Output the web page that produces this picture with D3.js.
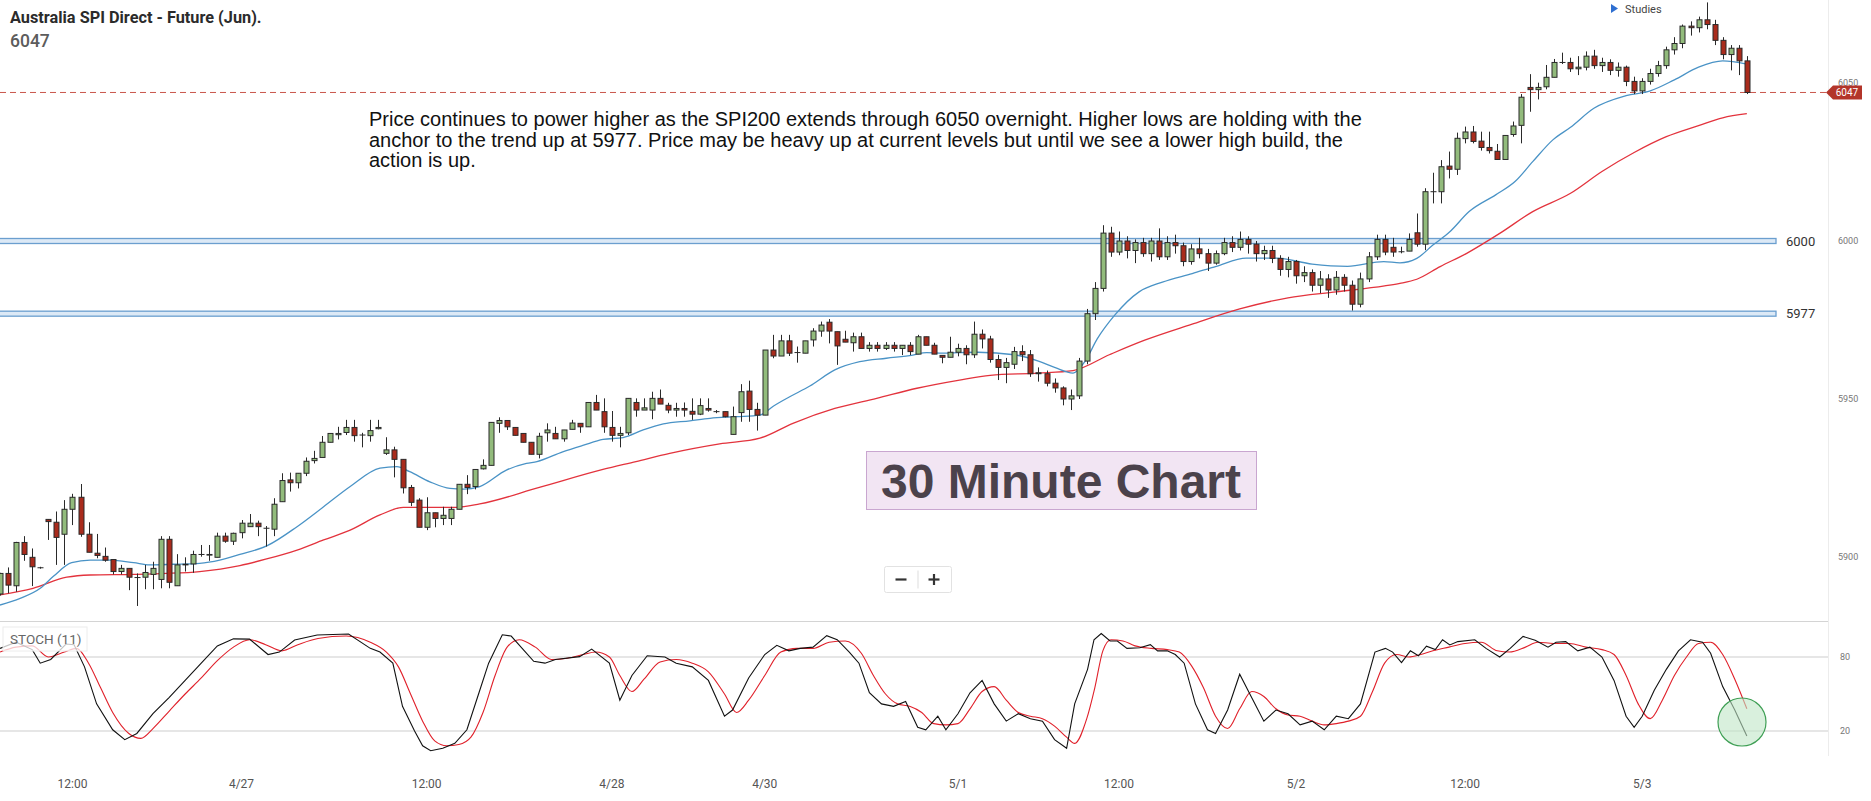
<!DOCTYPE html>
<html>
<head>
<meta charset="utf-8">
<script src="https://cdn.jsdelivr.net/npm/d3@7"></script>
<style>
  body { margin: 0; background: #fff; }
  svg { display: block; font-family: Roboto, "Liberation Sans", Arial, sans-serif; }
</style>
</head>
<body>
<svg id="chart"></svg>
<script>
// 30 minute candles (index 0 = left edge)
const opens = [
  5888.3, 5894.8, 5890.9, 5904.6, 5899.9, 5896.6, 5911.9, 5911.0, 5907.2, 5915.1,
  5918.9, 5907.2, 5901.2, 5900.2, 5899.2, 5895.4, 5896.4, 5893.5, 5893.6, 5894.5,
  5892.9, 5905.6, 5890.9, 5897.5, 5897.8, 5900.8, 5900.6, 5899.9, 5906.6, 5905.0,
  5907.7, 5909.6, 5910.7, 5909.1, 5908.8, 5917.5, 5924.4, 5923.5, 5926.5, 5930.5,
  5931.5, 5936.3, 5938.7, 5939.4, 5941.0, 5938.6, 5938.4, 5940.6, 5932.8, 5933.9,
  5930.9, 5922.0, 5918.0, 5909.4, 5914.0, 5912.2, 5912.2, 5915.1, 5923.0, 5922.3,
  5927.9, 5929.0, 5942.3, 5943.2, 5941.0, 5939.1, 5936.3, 5932.5, 5939.3, 5939.1,
  5937.4, 5940.4, 5942.3, 5941.2, 5948.9, 5946.0, 5941.0, 5938.5, 5939.3, 5948.9,
  5946.5, 5946.5, 5950.2, 5948.0, 5946.5, 5947.0, 5946.1, 5945.2, 5947.0, 5946.0,
  5946.0, 5938.8, 5945.7, 5952.5, 5946.7, 5944.9, 5965.5, 5963.6, 5968.4, 5964.7,
  5964.5, 5968.7, 5971.5, 5974.3, 5971.3, 5968.9, 5967.8, 5969.7, 5966.0, 5967.0,
  5966.0, 5967.0, 5966.0, 5967.0, 5964.2, 5969.7, 5967.0, 5963.8, 5963.2, 5964.8,
  5966.0, 5964.0, 5970.5, 5969.0, 5962.5, 5960.0, 5961.0, 5965.0, 5964.0, 5958.0,
  5958.0, 5955.0, 5953.5, 5950.0, 5951.0, 5962.0, 5977.0, 5985.0, 6002.5, 5996.5,
  6000.0, 5997.0, 5999.5, 5996.0, 6000.0, 5995.0, 5999.5, 5998.5, 5993.5, 5997.5,
  5996.0, 5993.0, 5996.0, 5999.5, 5998.0, 6000.5, 5999.0, 5996.0, 5997.0, 5994.5,
  5991.0, 5993.5, 5989.0, 5990.0, 5986.0, 5988.0, 5984.5, 5988.5, 5986.0, 5980.0,
  5988.0, 5995.0, 6000.5, 5998.0, 5996.6, 5996.8, 6002.6, 5999.0, 6015.6, 6015.6,
  6023.7, 6022.7, 6032.4, 6034.5, 6031.6, 6029.6, 6028.4, 6025.8, 6033.7, 6036.6,
  6048.6, 6047.9, 6048.8, 6051.8, 6056.5, 6056.5, 6054.5, 6055.0, 6058.5, 6055.5,
  6056.5, 6054.0, 6055.0, 6050.5, 6047.5, 6050.5, 6053.0, 6055.5, 6060.5, 6062.5,
  6068.0, 6067.5, 6070.0, 6068.5, 6063.5, 6059.0, 6061.0, 6057.0
];
const highs = [
  5895.0, 5896.7, 5904.8, 5906.6, 5902.7, 5896.9, 5912.0, 5914.4, 5918.0, 5920.0,
  5923.1, 5911.0, 5907.3, 5903.0, 5899.2, 5897.5, 5896.4, 5894.8, 5897.5, 5898.5,
  5906.6, 5906.6, 5900.9, 5899.9, 5902.0, 5903.8, 5903.8, 5907.7, 5907.7, 5907.7,
  5911.7, 5913.6, 5911.5, 5909.8, 5918.6, 5926.5, 5926.7, 5926.5, 5931.5, 5933.6,
  5938.3, 5939.1, 5941.2, 5943.4, 5943.4, 5939.3, 5943.4, 5943.4, 5937.9, 5934.9,
  5930.9, 5922.8, 5918.6, 5918.9, 5914.0, 5915.9, 5915.9, 5923.0, 5925.9, 5927.7,
  5930.9, 5942.6, 5944.2, 5943.2, 5941.0, 5939.1, 5936.3, 5939.3, 5942.3, 5941.2,
  5940.2, 5943.4, 5942.3, 5948.9, 5951.3, 5950.2, 5946.2, 5941.2, 5950.2, 5950.2,
  5950.2, 5952.3, 5953.0, 5948.8, 5948.8, 5948.9, 5950.2, 5950.2, 5950.2, 5946.5,
  5946.0, 5947.6, 5954.7, 5955.8, 5948.8, 5965.5, 5970.3, 5970.3, 5970.3, 5966.6,
  5968.4, 5972.4, 5974.5, 5975.3, 5971.3, 5971.6, 5971.0, 5971.0, 5968.0, 5968.0,
  5968.0, 5968.0, 5967.0, 5968.0, 5970.3, 5969.7, 5967.8, 5963.8, 5969.7, 5967.5,
  5967.0, 5974.5, 5972.0, 5970.0, 5964.0, 5963.0, 5966.5, 5967.0, 5965.5, 5960.0,
  5959.0, 5956.5, 5954.0, 5953.0, 5963.0, 5978.5, 5987.0, 6005.0, 6004.5, 6003.0,
  6001.5, 6000.5, 6001.0, 6001.0, 6004.0, 6001.5, 6002.0, 5999.5, 5999.0, 6001.0,
  5997.5, 5997.0, 6001.0, 6001.5, 6003.0, 6001.5, 6000.0, 5998.5, 5998.5, 5995.5,
  5995.0, 5994.0, 5992.0, 5991.0, 5990.5, 5989.5, 5990.5, 5989.5, 5987.5, 5990.0,
  5996.5, 6002.0, 6002.0, 6001.0, 5998.2, 6002.4, 6008.7, 6016.7, 6021.6, 6025.6,
  6028.3, 6034.3, 6036.2, 6036.4, 6034.6, 6034.6, 6030.7, 6033.4, 6037.8, 6046.5,
  6052.8, 6050.1, 6055.7, 6057.6, 6059.6, 6058.0, 6058.5, 6060.0, 6060.5, 6058.0,
  6057.5, 6056.5, 6055.5, 6052.0, 6051.5, 6054.5, 6057.0, 6061.5, 6064.5, 6068.5,
  6069.5, 6071.0, 6075.5, 6070.0, 6064.5, 6062.0, 6062.0, 6058.5
];
const lows = [
  5887.8, 5888.5, 5889.0, 5898.8, 5890.8, 5896.3, 5905.4, 5897.5, 5897.5, 5910.1,
  5906.4, 5901.5, 5899.6, 5898.5, 5894.5, 5894.5, 5889.5, 5884.5, 5889.8, 5889.8,
  5890.1, 5890.1, 5890.9, 5895.4, 5895.0, 5900.1, 5898.8, 5899.9, 5904.5, 5903.8,
  5905.9, 5909.6, 5906.6, 5903.3, 5906.6, 5917.5, 5920.7, 5921.7, 5925.6, 5929.6,
  5931.5, 5936.3, 5937.2, 5938.6, 5936.5, 5934.7, 5936.5, 5940.4, 5932.3, 5925.2,
  5920.1, 5916.1, 5909.4, 5908.5, 5909.4, 5910.1, 5910.1, 5915.1, 5919.9, 5921.4,
  5927.7, 5929.0, 5939.3, 5940.2, 5938.5, 5936.3, 5932.5, 5931.2, 5936.5, 5937.4,
  5936.5, 5940.4, 5939.3, 5941.2, 5946.5, 5939.3, 5936.5, 5934.7, 5938.6, 5944.4,
  5946.5, 5943.6, 5948.4, 5945.5, 5944.4, 5944.4, 5943.4, 5944.9, 5946.0, 5945.5,
  5944.2, 5938.8, 5942.8, 5942.8, 5940.0, 5944.9, 5962.9, 5963.6, 5963.6, 5961.5,
  5964.5, 5966.6, 5969.7, 5967.6, 5960.8, 5968.0, 5965.0, 5966.0, 5965.0, 5965.0,
  5965.5, 5965.0, 5963.9, 5963.9, 5964.2, 5967.0, 5964.2, 5961.3, 5963.2, 5963.5,
  5961.0, 5963.0, 5966.0, 5961.5, 5956.0, 5955.0, 5959.5, 5962.0, 5957.0, 5955.5,
  5954.0, 5952.0, 5948.0, 5946.5, 5950.0, 5961.0, 5975.0, 5984.0, 5995.0, 5995.5,
  5994.5, 5993.0, 5995.0, 5993.5, 5994.0, 5994.0, 5996.0, 5992.0, 5992.5, 5994.5,
  5990.5, 5992.5, 5995.5, 5996.5, 5997.0, 5996.0, 5993.5, 5994.0, 5993.0, 5989.0,
  5988.5, 5986.5, 5987.0, 5984.0, 5983.5, 5982.0, 5983.0, 5984.0, 5978.0, 5979.0,
  5987.0, 5994.0, 5995.5, 5995.0, 5996.1, 5996.8, 5998.2, 5997.1, 6011.9, 6011.9,
  6019.8, 6020.9, 6030.9, 6030.9, 6028.6, 6027.7, 6025.8, 6025.8, 6033.0, 6030.9,
  6040.9, 6044.8, 6048.0, 6051.8, 6056.0, 6053.5, 6052.5, 6054.0, 6054.5, 6053.5,
  6052.5, 6052.0, 6049.0, 6046.5, 6046.5, 6049.5, 6052.0, 6054.5, 6059.0, 6061.0,
  6065.0, 6066.0, 6067.0, 6062.0, 6057.5, 6054.0, 6052.5, 6046.5
];
const closes = [
  5894.8, 5891.1, 5904.6, 5900.8, 5896.9, 5896.6, 5911.2, 5906.2, 5915.1, 5918.9,
  5907.2, 5901.5, 5900.5, 5899.0, 5895.4, 5896.4, 5893.6, 5893.5, 5895.1, 5896.4,
  5905.6, 5892.0, 5897.5, 5897.7, 5900.8, 5900.8, 5900.8, 5906.6, 5905.0, 5907.5,
  5910.7, 5910.7, 5909.6, 5909.1, 5916.7, 5924.2, 5923.5, 5926.5, 5930.3, 5931.2,
  5936.3, 5939.1, 5939.1, 5941.0, 5938.4, 5938.6, 5940.0, 5941.0, 5933.9, 5930.9,
  5921.9, 5917.3, 5909.4, 5914.0, 5912.2, 5913.2, 5915.1, 5923.0, 5922.0, 5927.7,
  5929.0, 5942.6, 5943.2, 5941.2, 5938.5, 5936.3, 5932.5, 5938.2, 5940.2, 5937.4,
  5940.2, 5942.4, 5941.2, 5948.9, 5946.5, 5941.2, 5938.5, 5939.1, 5950.2, 5946.5,
  5947.2, 5950.2, 5948.4, 5946.5, 5947.0, 5946.5, 5945.2, 5947.9, 5946.5, 5946.0,
  5944.4, 5944.4, 5952.3, 5946.7, 5944.9, 5965.5, 5963.6, 5968.4, 5964.5, 5964.7,
  5968.4, 5971.5, 5973.4, 5971.5, 5966.8, 5968.0, 5969.7, 5966.0, 5967.0, 5966.0,
  5967.0, 5966.0, 5967.0, 5965.0, 5969.7, 5967.0, 5964.2, 5963.2, 5964.8, 5966.0,
  5964.0, 5970.5, 5969.0, 5962.5, 5960.0, 5961.5, 5965.0, 5964.0, 5958.0, 5958.3,
  5955.0, 5953.5, 5950.0, 5951.0, 5962.0, 5977.0, 5985.0, 6002.5, 5996.5, 6000.0,
  5997.0, 5999.5, 5996.0, 6000.0, 5995.0, 5999.5, 5998.5, 5993.5, 5997.5, 5996.0,
  5993.0, 5996.0, 5999.5, 5998.0, 6000.5, 5999.0, 5996.0, 5997.0, 5994.5, 5991.0,
  5993.5, 5989.0, 5990.0, 5986.0, 5988.0, 5984.5, 5988.5, 5986.0, 5980.0, 5988.0,
  5995.0, 6000.5, 5996.5, 5996.5, 5996.6, 6000.5, 5999.0, 6015.6, 6015.6, 6023.5,
  6022.7, 6032.5, 6034.5, 6031.5, 6029.6, 6028.6, 6025.8, 6033.4, 6036.4, 6045.5,
  6047.9, 6048.6, 6051.8, 6056.5, 6056.5, 6054.5, 6055.0, 6058.5, 6055.5, 6056.5,
  6054.0, 6055.0, 6050.5, 6047.5, 6050.5, 6053.0, 6055.5, 6060.5, 6062.5, 6068.0,
  6067.5, 6070.0, 6068.5, 6063.5, 6059.0, 6061.0, 6057.0, 6047.0
];

// moving averages, sampled as [candle index, price]
const fastMA = [
  [0,5884.8],[2.5,5886.9],[5,5890.1],[6.6,5893.8],[8.9,5898.2],[11.2,5899.0],[13.7,5899.0],
  [16.6,5898.2],[18.6,5897.5],[21.5,5897.7],[24.8,5898.0],[27.3,5899.0],[29.8,5900.8],
  [33.2,5903.6],[36.9,5909.6],[40.2,5915.9],[43.5,5922.3],[47.2,5928.1],[49.3,5928.6],
  [50.9,5927.0],[53.4,5923.8],[55.9,5921.7],[57.6,5921.5],[59.6,5922.3],[62.9,5927.5],
  [65.4,5929.6],[66.7,5930.2],[69.9,5933.3],[72.5,5935.4],[74.9,5937.2],[77.4,5937.8],
  [79.9,5940.2],[82.4,5942.1],[85.7,5943.1],[88.2,5943.9],[91.5,5944.4],[94.4,5944.9],
  [96.1,5947.8],[98.1,5950.7],[100.6,5954.1],[103.7,5959.2],[106.8,5961.8],[110.1,5962.9],
  [113.4,5963.9],[115.1,5964.7],[117.1,5964.5],[119.2,5964.7],[121.5,5964.8],[126,5964.0],
  [129,5962.0],[131,5960.0],[133.3,5958.2],[134.8,5962.0],[136.3,5969.0],[138.5,5976.6],
  [141.5,5983.9],[144.4,5987.0],[148.1,5989.7],[151.1,5992.0],[154.8,5994.6],[158.5,5994.6],
  [163,5992.7],[167.4,5992.0],[171.9,5993.5],[173.9,5993.1],[176,5994.5],[178,5998.7],
  [180.1,6002.9],[182.5,6009.3],[185.8,6014.6],[188.2,6018.8],[190.4,6025.1],[192.9,6032.0],
  [195.1,6036.0],[198,6042.0],[202,6046.0],[205,6047.5],[208,6051.0],[211,6055.0],
  [214,6057.0],[217,6056.0]
];
const slowMA = [
  [0,5888.0],[4.1,5890.1],[8.3,5893.6],[11.2,5894.3],[16.6,5894.5],[20.7,5894.8],[24.8,5895.4],
  [29.8,5897.3],[33,5899.3],[36.9,5902.2],[40.2,5905.4],[43.5,5908.5],[47.2,5913.3],
  [50.1,5915.7],[53.4,5915.7],[56.7,5915.7],[59.6,5916.8],[67,5922.0],[74.9,5927.7],
  [79,5930.2],[83.2,5932.8],[89.4,5935.8],[94.4,5937.6],[98.5,5942.3],[103.7,5947.0],
  [108.9,5950.2],[113.9,5953.4],[119.2,5956.0],[123,5957.5],[129,5958.2],[133.3,5959.0],
  [137.8,5964.0],[142.2,5968.6],[148,5973.6],[154,5978.5],[160,5982.0],[166,5983.9],
  [172,5985.8],[173.9,5986.6],[176,5987.9],[178.9,5991.9],[182.2,5996.1],[186.3,6002.4],
  [190.4,6009.3],[195.1,6015.1],[199,6022.0],[203,6028.0],[207,6033.0],[211,6036.5],
  [214,6039.0],[217,6040.3]
];

// stochastic (11): %K black, %D red, as [candle index, value]
const stochK = [
  [0,87],[2,92],[4,86],[5,75],[6.3,78],[8.2,90.5],[9.2,90],[10.5,72],[12,42],[14,21],[15.5,13],
  [17,18],[19,34],[21,47],[23,61],[25,75],[27,89],[29,94.7],[31,94.5],[33.3,82],[34.7,84],
  [36.6,93.8],[39.4,97.8],[43.3,98.6],[46,87],[47.2,84],[48.8,75],[50,40],[51.5,20],[52.5,8],
  [53.5,4],[55,6],[56.5,10],[58,21],[59.5,51],[60.7,75],[62.4,98],[63.5,97],[66.3,76.5],
  [67.7,75],[69,78],[72,80.3],[73.5,86.4],[75.7,75],[77,45],[78.5,65],[80.4,81],[82.6,80],
  [84,75],[86,72],[88,61],[90,32],[91,37],[93,63],[95,82],[96.5,89.5],[98,85],[99.4,87],
  [101,88],[102.7,97.3],[104,94],[105.5,84],[106.7,75],[108,51],[109.5,42],[111,40],[112.5,44],
  [114,23],[115,21],[116.5,32],[117.5,21],[119,34],[120.5,51],[122,61],[123.5,42],[125,28],
  [126.5,34],[128,30],[129.5,28],[131,13],[132.5,6],[133.5,42],[135.1,70],[135.9,94],[136.8,99],
  [137.9,93],[138.8,93],[140,87],[141.6,87.5],[142.9,90],[143.8,85],[145,85],[146,82],[147.1,75],
  [148.5,42],[150,21],[151,18],[152.5,37],[154,66],[155.5,47],[157,28],[158.5,37],[160,34],
  [161.5,25],[163,28],[164.5,21],[166,32],[167.5,30],[169,42],[170.8,84],[172.1,87],[173,84],
  [174.1,75.4],[175.2,85],[176.2,81],[177.2,88.8],[178.3,86],[179.2,94],[180.1,89.8],[181.1,92.5],
  [183.2,94],[184.6,87],[186.3,80],[187.6,87],[189.2,96.7],[190.7,93.5],[192.3,88],[193.3,92],
  [194.5,92.5],[196,85],[197.5,88],[199,80],[200.5,61],[202,32],[203,23],[204,32],[205.5,53],
  [207,70],[208.5,85],[210,94],[211.5,92],[212.5,83],[214,56],[215.5,37],[217,16]
];
const stochD = [
  [0,84],[2,88],[4,89],[6,80],[8,84],[9.5,87],[11,75],[12.5,55],[14,35],[16,18],[17.5,14],[19,22],
  [21,36],[23,50],[25,63],[27,77],[29,88],[31,94],[33,90],[35,85],[37,90],[39.5,95],[43,97],
  [46,92],[48,84],[49.5,72],[51,50],[52.5,28],[54,12],[55.5,8],[57,9],[58.5,15],[60,35],
  [61.5,65],[63,88],[64.5,94],[66.5,88],[68.5,78],[70.5,79],[72.5,82],[74,84],[75.7,80],
  [77,65],[78.5,52],[80,62],[82,76],[84,78],[86,75],[88,68],[90,50],[91.5,35],[93,45],[95,65],
  [97,84],[99,87],[101,87],[103,92],[105,93],[107,83],[108.5,65],[110,50],[111.5,42],[113,40],
  [114.5,35],[116,26],[117.5,25],[119,26],[120.5,38],[122,52],[123.5,56],[125,45],[126.5,35],
  [128,32],[129.5,30],[131,24],[132.5,15],[133.5,10],[135,30],[136,55],[137,85],[138,94],
  [139.5,93],[141,89],[143,87],[145,86],[146.5,84],[148,73],[149.5,55],[151,32],[152.5,22],
  [154,38],[155.5,52],[157,48],[158.5,38],[160,33],[161.5,32],[163,28],[164.5,25],[166,26],
  [167.5,28],[169,32],[170.5,52],[172,75],[173.5,82],[175,80],[176.5,82],[178,85],[180,88],
  [182,91],[184,92],[186,85],[187.5,84],[189.5,88],[191,92],[193,91],[195,91],[197,88],[199,86],
  [200.5,82],[202,65],[203.5,42],[205,30],[206.5,45],[208,65],[209.5,80],[211,91],[212.5,92],
  [214,82],[215.5,62],[217,38]
];

const timeLabels = ["12:00", "4/27", "12:00", "4/28", "4/30", "5/1", "12:00", "5/2", "12:00", "5/3"];
const timeLabelIdx = [9, 30, 53, 76, 95, 119, 139, 161, 182, 204];
const priceTicks = [5900, 5950, 6000, 6050];
const stochTicks = [20, 80];
const levels = [6000, 5977];
const lastPrice = 6047;

const noteLines = [
  "Price continues to power higher as the SPI200 extends through 6050 overnight. Higher lows are holding with the",
  "anchor to the trend up at 5977. Price may be heavy up at current levels but until we see a lower high build, the",
  "action is up."
];

const W = 1871, H = 801;
const plotRight = 1828;
const priceBottom = 621;

const svg = d3.select("#chart").attr("width", W).attr("height", H);

const n = closes.length;
const candles = d3.range(n).map(i => ({ i, o: opens[i], h: highs[i], l: lows[i], c: closes[i] }));

const x = d3.scaleLinear().domain([0, n - 1]).range([0, 8.05 * (n - 1)]);
const y = d3.scaleLinear().domain([5900, 6050]).range([557, 83]);
const ys = d3.scaleLinear().domain([20, 80]).range([731, 657]);

svg.append("defs").append("clipPath").attr("id", "priceClip")
  .append("rect").attr("x", 0).attr("y", 0).attr("width", plotRight).attr("height", priceBottom);

// pane frames
svg.append("line").attr("x1", 0).attr("x2", plotRight).attr("y1", priceBottom + 0.5).attr("y2", priceBottom + 0.5)
  .attr("stroke", "#d4d4d4");
svg.append("line").attr("x1", plotRight + 0.5).attr("x2", plotRight + 0.5).attr("y1", 0).attr("y2", 756)
  .attr("stroke", "#ececec");

const price = svg.append("g").attr("clip-path", "url(#priceClip)");

// support / resistance zones
levels.forEach(lv => {
  price.append("rect")
    .attr("x", -2).attr("width", 1778)
    .attr("y", y(lv) - 2.5).attr("height", 5)
    .attr("fill", "#dce9f6").attr("stroke", "#6b9fcf").attr("stroke-width", 1.3);
  svg.append("text")
    .attr("x", 1786).attr("y", y(lv)).attr("dy", "0.35em")
    .attr("font-size", 13).attr("fill", "#333")
    .text(lv);
});

// last price dashed line
price.append("line")
  .attr("x1", 0).attr("x2", plotRight)
  .attr("y1", y(lastPrice)).attr("y2", y(lastPrice))
  .attr("stroke", "#c9574d").attr("stroke-dasharray", "6,4").attr("stroke-width", 1);

// moving averages
const maLine = d3.line().x(d => x(d[0])).y(d => y(d[1])).curve(d3.curveMonotoneX);
price.append("path").datum(slowMA).attr("d", maLine)
  .attr("fill", "none").attr("stroke", "#e3333d").attr("stroke-width", 1.3);
price.append("path").datum(fastMA).attr("d", maLine)
  .attr("fill", "none").attr("stroke", "#4a93c6").attr("stroke-width", 1.3);

// candles
const cg = price.selectAll(".candle").data(candles).join("g").attr("class", "candle");
cg.append("line")
  .attr("x1", d => Math.round(x(d.i)) + 0.5).attr("x2", d => Math.round(x(d.i)) + 0.5)
  .attr("y1", d => y(d.h)).attr("y2", d => y(d.l))
  .attr("stroke", "#2a2a2a").attr("stroke-width", 1);
cg.append("rect")
  .attr("x", d => Math.round(x(d.i)) - 2)
  .attr("width", 5)
  .attr("y", d => y(Math.max(d.o, d.c)))
  .attr("height", d => Math.max(0.01, Math.abs(y(d.o) - y(d.c))))
  .attr("fill", d => d.c > d.o ? "#92bb7c" : (d.c < d.o ? "#a92b1c" : "none"))
  .attr("stroke", "#2a2a2a").attr("stroke-width", 1);

// right price axis
svg.selectAll(".ptick").data(priceTicks).join("text")
  .attr("class", "ptick")
  .attr("x", 1838).attr("y", d => y(d)).attr("dy", "0.35em")
  .attr("font-size", 9).attr("fill", "#777")
  .text(d => d);

// last price tag
const ty = y(lastPrice);
svg.append("path")
  .attr("d", `M1826,${ty} L1833,${ty - 7} L1862,${ty - 7} L1862,${ty + 7} L1833,${ty + 7} Z`)
  .attr("fill", "#b3352a");
svg.append("text")
  .attr("x", 1847).attr("y", ty).attr("dy", "0.35em")
  .attr("text-anchor", "middle").attr("font-size", 10).attr("fill", "#fff")
  .text(lastPrice);

// stochastic pane
stochTicks.forEach(t => {
  svg.append("line").attr("x1", 0).attr("x2", plotRight).attr("y1", ys(t)).attr("y2", ys(t))
    .attr("stroke", "#cdcdcd");
  svg.append("text").attr("x", 1840).attr("y", ys(t)).attr("dy", "0.35em")
    .attr("font-size", 9).attr("fill", "#777").text(t);
});
svg.append("path").datum(stochD)
  .attr("d", d3.line().x(d => x(d[0])).y(d => ys(d[1])).curve(d3.curveMonotoneX))
  .attr("fill", "none").attr("stroke", "#e0202a").attr("stroke-width", 1.1);
svg.append("path").datum(stochK)
  .attr("d", d3.line().x(d => x(d[0])).y(d => ys(d[1])))
  .attr("fill", "none").attr("stroke", "#111").attr("stroke-width", 1.1);

svg.append("rect").attr("x", 3).attr("y", 627).attr("width", 84).attr("height", 24)
  .attr("fill", "#fff").attr("fill-opacity", 0.75).attr("stroke", "#ececec");
svg.append("text").attr("x", 10).attr("y", 644)
  .attr("font-size", 13.5).attr("fill", "#666").text("STOCH (11)");

// highlight circle
svg.append("circle").attr("cx", 1742).attr("cy", 722).attr("r", 24)
  .attr("fill", "#bfe6c6").attr("fill-opacity", 0.6)
  .attr("stroke", "#3f9f55").attr("stroke-width", 1.2);

// time axis
svg.selectAll(".xtick").data(timeLabels).join("text")
  .attr("class", "xtick")
  .attr("x", (d, k) => x(timeLabelIdx[k])).attr("y", 788)
  .attr("text-anchor", "middle").attr("font-size", 12).attr("fill", "#555")
  .text(d => d);

// header
svg.append("text").attr("x", 10).attr("y", 23)
  .attr("font-size", 16.3).attr("font-weight", 700).attr("fill", "#2b2b2b")
  .text("Australia SPI Direct - Future (Jun).");
svg.append("text").attr("x", 10).attr("y", 47)
  .attr("font-size", 17.5).attr("font-weight", 500).attr("fill", "#5c5c5c")
  .text(lastPrice);

svg.append("path").attr("d", "M1611,4 L1618,8.5 L1611,13 Z").attr("fill", "#2e6fd1");
svg.append("text").attr("x", 1625).attr("y", 13)
  .attr("font-size", 11).attr("fill", "#444").text("Studies");

// commentary
svg.append("g").selectAll("text").data(noteLines).join("text")
  .attr("x", 369).attr("y", (d, k) => 126 + k * 20.5)
  .attr("font-family", "'Liberation Sans', Arial, sans-serif")
  .attr("font-size", 20).attr("fill", "#111")
  .text(d => d);

// title box
svg.append("rect").attr("x", 866.5).attr("y", 451.5).attr("width", 390).attr("height", 58)
  .attr("fill", "#f2e5f3").attr("stroke", "#c9a6d0");
svg.append("text").attr("x", 1061).attr("y", 498)
  .attr("text-anchor", "middle")
  .attr("font-family", "'Liberation Sans', Arial, sans-serif")
  .attr("font-size", 48).attr("font-weight", 700).attr("fill", "#4b424b")
  .text("30 Minute Chart");

// zoom buttons
const zb = svg.append("g").attr("transform", "translate(884.5,566.5)");
zb.append("rect").attr("width", 67).attr("height", 26).attr("rx", 2)
  .attr("fill", "#fff").attr("stroke", "#e2e2e2");
zb.append("line").attr("x1", 33.5).attr("x2", 33.5).attr("y1", 4).attr("y2", 22).attr("stroke", "#ddd");
zb.append("line").attr("x1", 11).attr("x2", 22).attr("y1", 13).attr("y2", 13)
  .attr("stroke", "#333").attr("stroke-width", 2.2);
zb.append("line").attr("x1", 44).attr("x2", 55).attr("y1", 13).attr("y2", 13)
  .attr("stroke", "#333").attr("stroke-width", 2.2);
zb.append("line").attr("x1", 49.5).attr("x2", 49.5).attr("y1", 7.5).attr("y2", 18.5)
  .attr("stroke", "#333").attr("stroke-width", 2.2);
</script>
</body>
</html>
